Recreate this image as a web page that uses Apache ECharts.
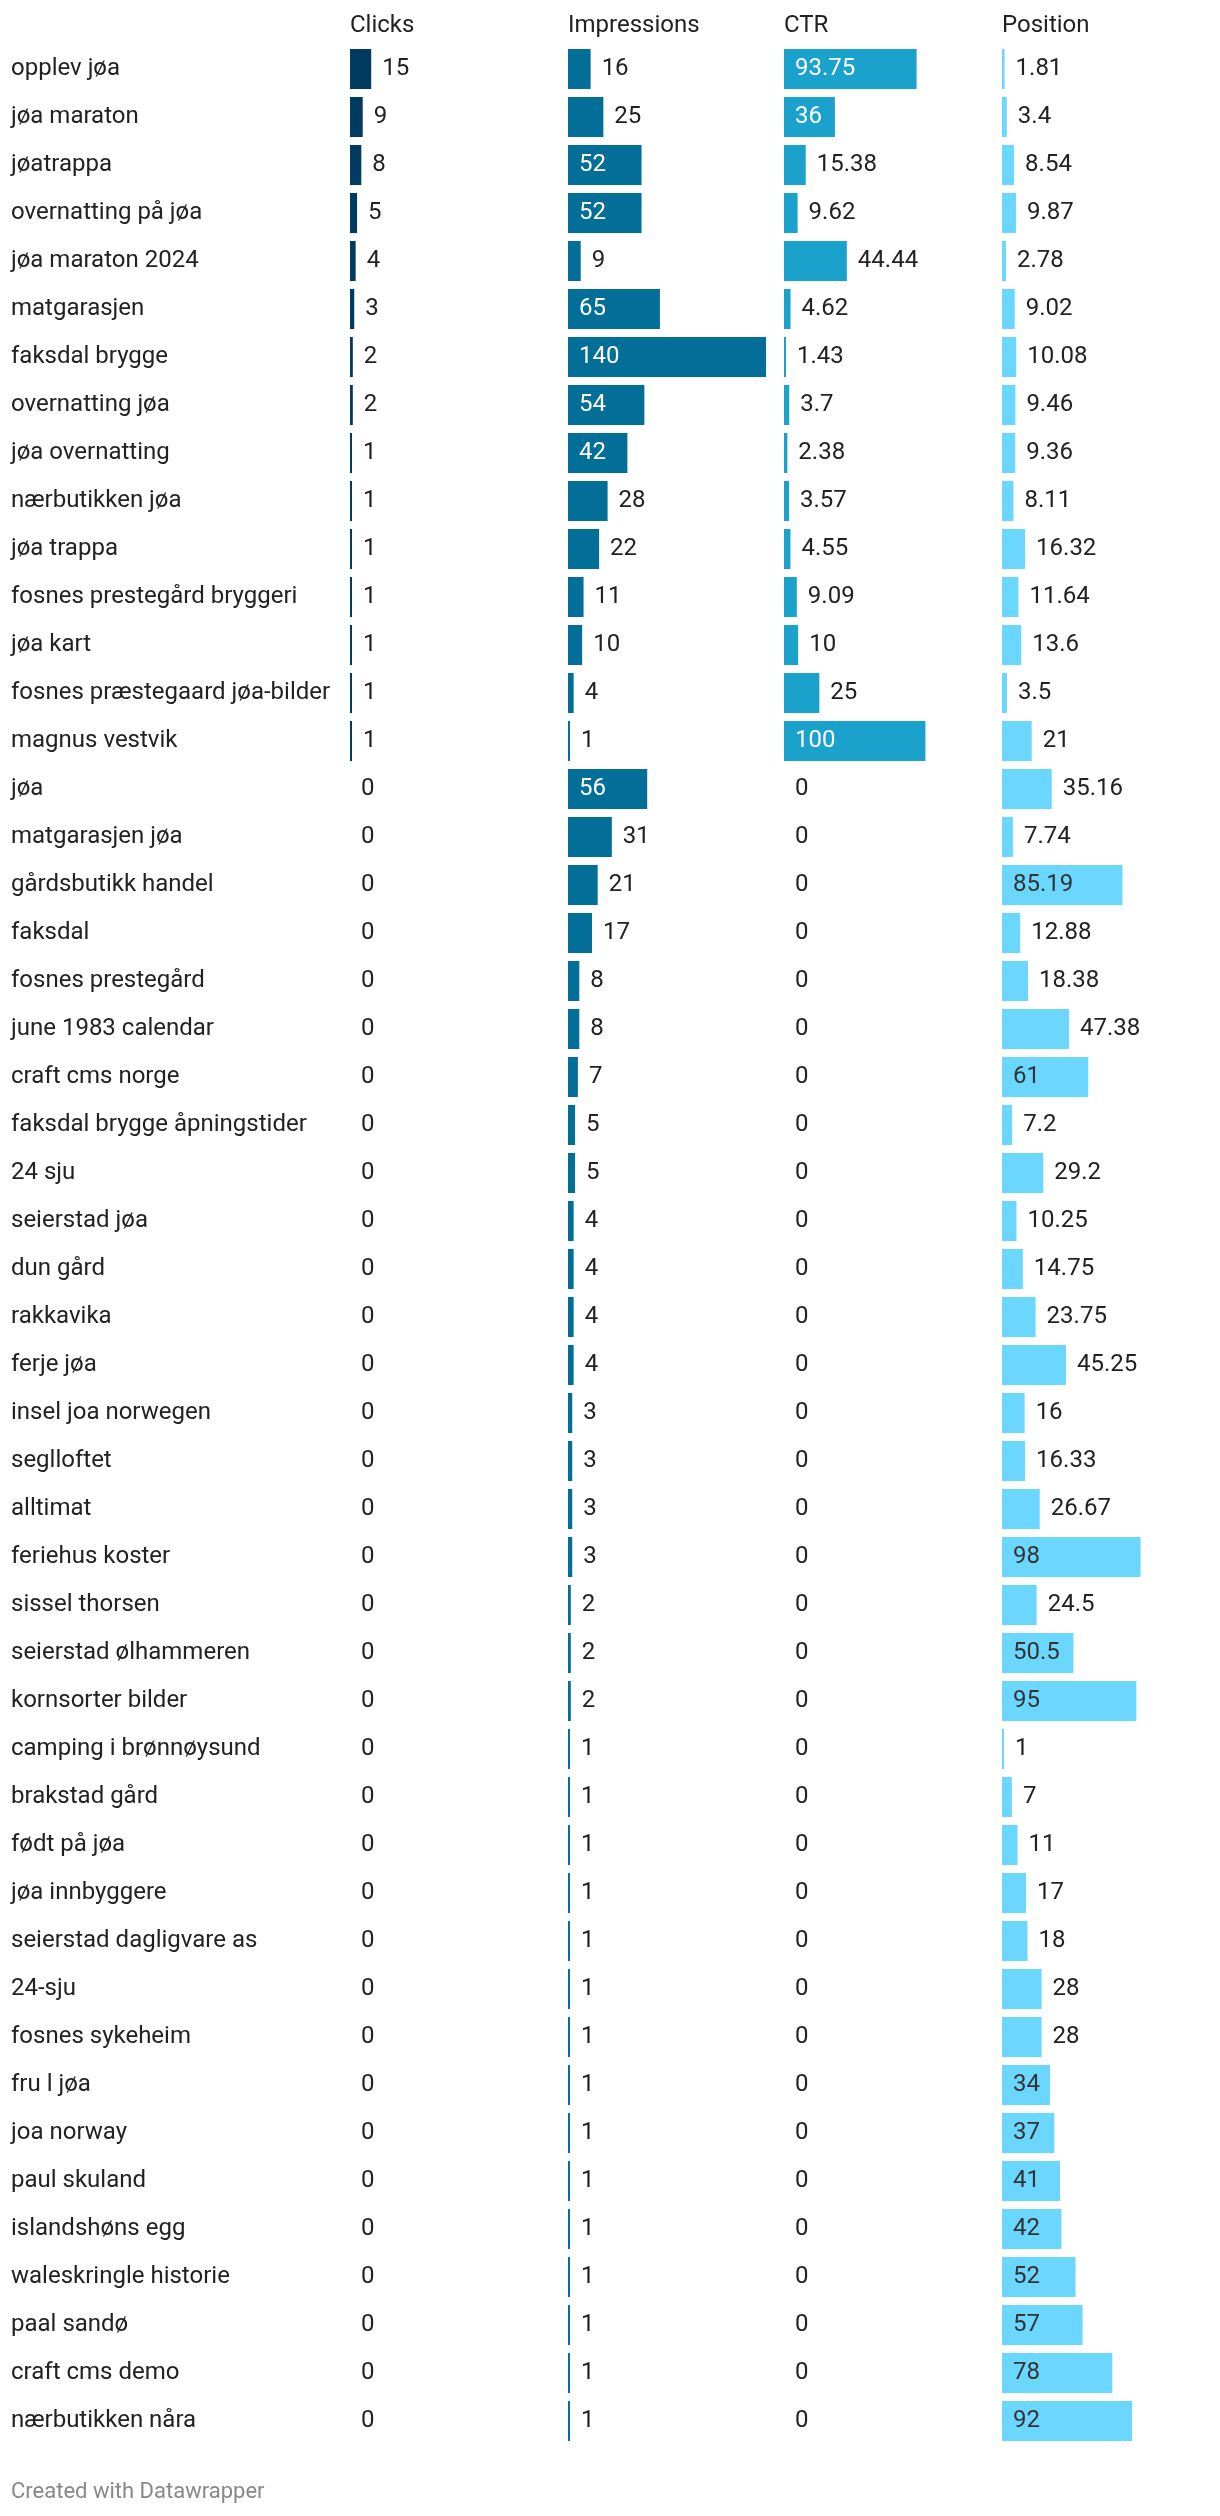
<!DOCTYPE html>
<html>
<head>
<meta charset="utf-8">
<script src="https://cdn.jsdelivr.net/npm/echarts@6/dist/echarts.min.js"></script>
<style>
  html, body { margin: 0; padding: 0; background: #fff; }
  #chart { width: 1220px; height: 2516px; }
</style>
</head>
<body>
<div id="chart"></div>
<script>
const categories = [
  'opplev jøa', 'jøa maraton', 'jøatrappa', 'overnatting på jøa', 'jøa maraton 2024',
  'matgarasjen', 'faksdal brygge', 'overnatting jøa', 'jøa overnatting', 'nærbutikken jøa',
  'jøa trappa', 'fosnes prestegård bryggeri', 'jøa kart', 'fosnes præstegaard jøa-bilder', 'magnus vestvik',
  'jøa', 'matgarasjen jøa', 'gårdsbutikk handel', 'faksdal', 'fosnes prestegård',
  'june 1983 calendar', 'craft cms norge', 'faksdal brygge åpningstider', '24 sju', 'seierstad jøa',
  'dun gård', 'rakkavika', 'ferje jøa', 'insel joa norwegen', 'seglloftet',
  'alltimat', 'feriehus koster', 'sissel thorsen', 'seierstad ølhammeren', 'kornsorter bilder',
  'camping i brønnøysund', 'brakstad gård', 'født på jøa', 'jøa innbyggere', 'seierstad dagligvare as',
  '24-sju', 'fosnes sykeheim', 'fru l jøa', 'joa norway', 'paul skuland',
  'islandshøns egg', 'waleskringle historie', 'paal sandø', 'craft cms demo', 'nærbutikken nåra'
];
const clicks = [
  15, 9, 8, 5, 4, 3, 2, 2, 1, 1,
  1, 1, 1, 1, 1, 0, 0, 0, 0, 0,
  0, 0, 0, 0, 0, 0, 0, 0, 0, 0,
  0, 0, 0, 0, 0, 0, 0, 0, 0, 0,
  0, 0, 0, 0, 0, 0, 0, 0, 0, 0
];
const impressions = [
  16, 25, 52, 52, 9, 65, 140, 54, 42, 28,
  22, 11, 10, 4, 1, 56, 31, 21, 17, 8,
  8, 7, 5, 5, 4, 4, 4, 4, 3, 3,
  3, 3, 2, 2, 2, 1, 1, 1, 1, 1,
  1, 1, 1, 1, 1, 1, 1, 1, 1, 1
];
const ctr = [
  93.75, 36, 15.38, 9.62, 44.44, 4.62, 1.43, 3.7, 2.38, 3.57,
  4.55, 9.09, 10, 25, 100, 0, 0, 0, 0, 0,
  0, 0, 0, 0, 0, 0, 0, 0, 0, 0,
  0, 0, 0, 0, 0, 0, 0, 0, 0, 0,
  0, 0, 0, 0, 0, 0, 0, 0, 0, 0
];
const position = [
  1.81, 3.4, 8.54, 9.87, 2.78, 9.02, 10.08, 9.46, 9.36, 8.11,
  16.32, 11.64, 13.6, 3.5, 21, 35.16, 7.74, 85.19, 12.88, 18.38,
  47.38, 61, 7.2, 29.2, 10.25, 14.75, 23.75, 45.25, 16, 16.33,
  26.67, 98, 24.5, 50.5, 95, 1, 7, 11, 17, 18,
  28, 28, 34, 37, 41, 42, 52, 57, 78, 92
];
const columnTitles = ['Clicks', 'Impressions', 'CTR', 'Position'];
const footerText = 'Created with Datawrapper';

// ---- layout / style ----
const FONT = 'Roboto';
const FS = 24;
const colLefts = [350, 568, 784, 1002];
const colWidth = 198;
const axisMax = 140;
const gridTop = 45;
const gridHeight = 2400;
const colors = ['#013b5f', '#036f98', '#1aa2cd', '#6bd7fe'];
const insideColors = ['#ffffff', '#ffffff', '#ffffff', '#333333'];
const darkText = '#222222';

const ctx = document.createElement('canvas').getContext('2d');
ctx.font = FS + 'px ' + FONT;
const scale = colWidth / axisMax;

function buildData(values, ci) {
  return values.map(v => {
    const txt = String(v);
    const tw = ctx.measureText(txt).width;
    const inside = v * scale >= tw + 18;
    const item = {
      value: v,
      label: inside
        ? { position: 'insideLeft', distance: 11, color: insideColors[ci] }
        : { position: 'right', distance: v === 0 ? 9 : 11, color: darkText }
    };
    if (v === 0) item.itemStyle = { color: 'rgba(0,0,0,0)' };
    return item;
  });
}

const seriesValues = [clicks, impressions, ctr, position];

const grids = colLefts.map(l => ({ left: l, top: gridTop, width: colWidth, height: gridHeight, containLabel: false }));
const xAxes = colLefts.map((l, i) => ({
  type: 'value', gridIndex: i, min: 0, max: axisMax, show: false
}));
const yAxes = colLefts.map((l, i) => ({
  type: 'category', gridIndex: i, data: categories, inverse: true,
  axisLine: { show: false }, axisTick: { show: false }, splitLine: { show: false },
  axisLabel: {
    show: i === 0, align: 'left', margin: colLefts[0] - 11,
    fontFamily: FONT, fontSize: FS, color: darkText
  }
}));
const series = seriesValues.map((vals, i) => ({
  type: 'bar', xAxisIndex: i, yAxisIndex: i,
  barWidth: 40,
  barMinHeight: 2,
  itemStyle: { color: colors[i] },
  label: {
    show: true, fontFamily: FONT, fontSize: FS,
    formatter: p => String(p.value)
  },
  data: buildData(vals, i),
  silent: true,
  animation: false
}));

const titles = columnTitles.map((t, i) => ({
  text: t, left: colLefts[i], top: 14, padding: 0,
  textStyle: { fontFamily: FONT, fontSize: FS, fontWeight: 'normal', color: darkText }
}));
titles.push({
  text: footerText, left: 11, top: 2481, padding: 0,
  textStyle: { fontFamily: FONT, fontSize: 22, fontWeight: 'normal', color: '#888888' }
});

const chart = echarts.init(document.getElementById('chart'), null, { renderer: 'canvas' });
chart.setOption({
  backgroundColor: '#ffffff',
  animation: false,
  title: titles,
  grid: grids,
  xAxis: xAxes,
  yAxis: yAxes,
  series: series
});
</script>
</body>
</html>
